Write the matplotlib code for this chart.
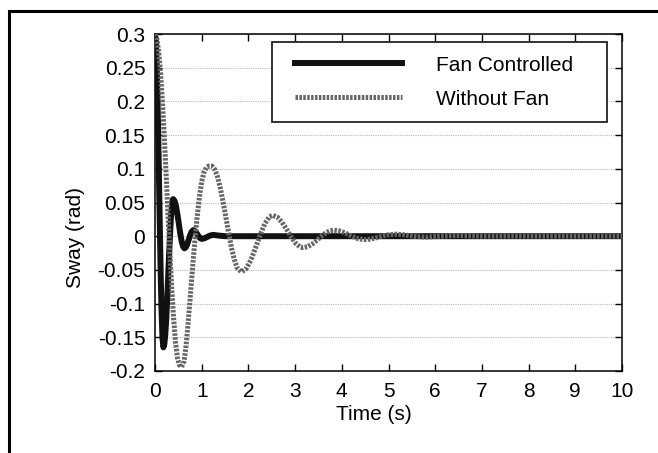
import matplotlib
matplotlib.use("Agg")
import matplotlib.pyplot as plt
from matplotlib.patches import Rectangle
from matplotlib.lines import Line2D
from matplotlib.legend_handler import HandlerLine2D

# ---- data ----
t_fan = [0.00, 0.02, 0.04, 0.06, 0.08, 0.10, 0.12, 0.14, 0.16, 0.18,
         0.20, 0.22, 0.24, 0.26, 0.28, 0.30, 0.32, 0.34, 0.36, 0.38, 0.39,
         0.42, 0.45, 0.48, 0.51, 0.54, 0.57, 0.60, 0.63,
         0.66, 0.69, 0.72, 0.75, 0.78, 0.82,
         0.86, 0.90, 0.94, 0.97, 1.00,
         1.06, 1.12, 1.18, 1.25, 1.35, 1.50, 2.00, 4.00, 6.00, 8.00, 10.00]
sway_fan = [0.300, 0.286, 0.246, 0.184, 0.108, 0.027, -0.049, -0.111, -0.151, -0.165,
            -0.160, -0.146, -0.124, -0.095, -0.063, -0.030, 0.000, 0.026, 0.044, 0.054, 0.055,
            0.0522, 0.0443, 0.0325, 0.0185, 0.0045, -0.0073, -0.0152, -0.018,
            -0.0164, -0.0119, -0.0056, 0.0009, 0.0062, 0.009,
            0.0075, 0.0036, -0.0008, -0.0031, -0.004,
            -0.003, -0.001, 0.001, 0.002, 0.001, 0.000, 0.000, 0.000, 0.000, 0.000, 0.000]

t_nofan = [0.00, 0.04, 0.08, 0.12, 0.16, 0.20, 0.24, 0.28, 0.32, 0.36, 0.40, 0.44, 0.48, 0.52, 0.57,
           0.62, 0.66, 0.70, 0.74, 0.78, 0.82, 0.86, 0.90, 0.95, 1.00, 1.05, 1.10, 1.15, 1.22,
           1.28, 1.34, 1.40, 1.46, 1.52, 1.58, 1.64, 1.70, 1.76, 1.85,
           1.95, 2.05, 2.15, 2.25, 2.35, 2.45, 2.52,
           2.62, 2.72, 2.82, 2.92, 3.02, 3.10, 3.17,
           3.27, 3.37, 3.47, 3.57, 3.67, 3.75, 3.83,
           3.95, 4.05, 4.15, 4.25, 4.35, 4.48,
           4.60, 4.70, 4.80, 4.90, 5.00, 5.14,
           5.30, 5.47, 5.60, 5.80, 6.10, 6.45, 7.00, 8.00, 9.00, 10.00]
sway_nofan = [0.300, 0.293, 0.273, 0.241, 0.198, 0.146, 0.089, 0.030, -0.027, -0.079, -0.123, -0.158, -0.180, -0.191, -0.194,
              -0.186, -0.166, -0.136, -0.103, -0.068, -0.034, -0.002, 0.027, 0.058, 0.081, 0.095, 0.102, 0.104, 0.104,
              0.099, 0.088, 0.071, 0.050, 0.027, 0.004, -0.018, -0.035, -0.047, -0.053,
              -0.0485, -0.0358, -0.0178, 0.0016, 0.0184, 0.029, 0.031,
              0.0283, 0.0206, 0.0099, -0.0015, -0.011, -0.0156, -0.017,
              -0.0156, -0.0115, -0.0058, 0.0003, 0.0054, 0.0081, 0.009,
              0.0079, 0.0054, 0.0022, -0.0011, -0.0037, -0.005,
              -0.0044, -0.003, -0.0012, 0.0007, 0.0021, 0.003,
              0.0023, 0.0007, -0.0006, -0.0015, -0.0002, 0.001, 0.000, 0.000, 0.000, 0.000]

labels = ["Fan Controlled", "Without Fan"]
xticks = [0, 1, 2, 3, 4, 5, 6, 7, 8, 9, 10]
yticks = [0.3, 0.25, 0.2, 0.15, 0.1, 0.05, 0, -0.05, -0.1, -0.15, -0.2]
ytick_labels = ["0.3", "0.25", "0.2", "0.15", "0.1", "0.05", "0", "-0.05", "-0.1", "-0.15", "-0.2"]
xlabel = "Time (s)"
ylabel = "Sway (rad)"

# ---- figure ----
plt.rcParams['font.family'] = ['Liberation Sans', 'DejaVu Sans']
plt.rcParams['axes.unicode_minus'] = False
FS = 15

W, H = 658, 453
fig = plt.figure(figsize=(W / 100, H / 100), dpi=100)
ax = fig.add_axes([155 / W, 1 - 371 / H, (622 - 155) / W, (371 - 34) / H])

# outer frame of the screenshot
fig.patches.append(Rectangle((9 / W, -0.2), 1.2, 1 - 11 / H + 0.2, transform=fig.transFigure,
                             fill=False, edgecolor='black', linewidth=2.2, zorder=0))

ax.plot(t_fan, sway_fan, color='#111111', lw=4.3, solid_joinstyle='round',
        label=labels[0], zorder=3)
ax.plot(t_nofan, sway_nofan, color='#666666', lw=3.6,
        linestyle=(0, (0.5, 0.28)), dash_capstyle='butt', label=labels[1], zorder=4)

ax.set_xlim(0, 10)
ax.set_ylim(-0.2, 0.3)
ax.set_xticks(xticks)
ax.set_xticklabels([str(v) for v in xticks])
ax.set_yticks(yticks)
ax.set_yticklabels(ytick_labels)
ax.tick_params(direction='in', length=5, width=1, top=True, right=True, labelsize=FS)
ax.tick_params(axis='x', pad=8)
ax.tick_params(axis='y', pad=7)
ax.grid(axis='y', color='#bbbbbb', linestyle=(0, (1, 1)), linewidth=0.8)
for s in ax.spines.values():
    s.set_linewidth(1.1)

ax.set_xlabel(xlabel, fontsize=FS)
ax.xaxis.set_label_coords((374 - 155) / 467, -0.1)
ax.set_ylabel(ylabel, fontsize=FS)
ax.yaxis.set_label_coords(-0.15, (371 - 237) / 337)

leg = ax.legend(loc='upper left', bbox_to_anchor=(0.2505, 0.745, 0.7173, 0.231), mode='expand',
                borderaxespad=0, fontsize=FS, handlelength=5.6, handletextpad=1.6,
                labelspacing=0.72, borderpad=0.65, fancybox=False, framealpha=1,
                edgecolor='#222222', handler_map={Line2D: HandlerLine2D(xpad=0.45)})
leg.get_frame().set_linewidth(1.3)

fig.savefig("out.png", dpi=100)
